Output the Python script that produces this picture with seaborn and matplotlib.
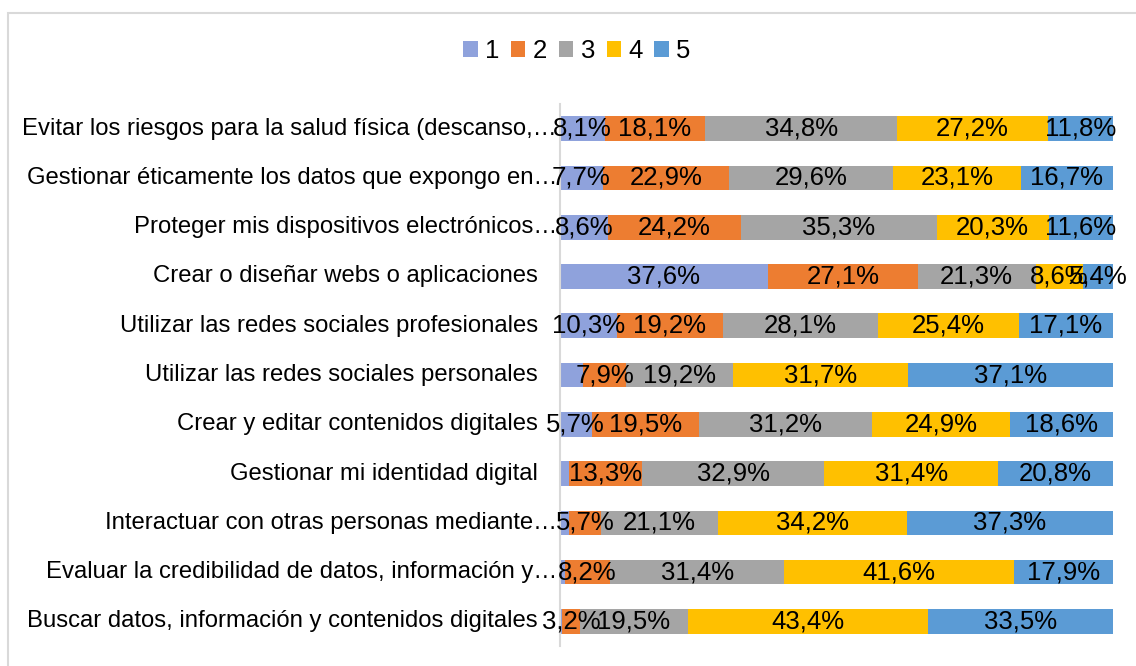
import numpy as np
import pandas as pd
import matplotlib
matplotlib.use("Agg")
import matplotlib.pyplot as plt
from matplotlib.patches import Rectangle, Patch
import matplotlib.transforms as mtransforms
import seaborn as sns

categories = [
    "Evitar los riesgos para la salud física (descanso,…",
    "Gestionar éticamente los datos que expongo en…",
    "Proteger mis dispositivos electrónicos…",
    "Crear o diseñar webs o aplicaciones",
    "Utilizar las redes sociales profesionales",
    "Utilizar las redes sociales personales",
    "Crear y editar contenidos digitales",
    "Gestionar mi identidad digital",
    "Interactuar con otras personas mediante…",
    "Evaluar la credibilidad de datos, información y…",
    "Buscar datos, información y contenidos digitales",
]
series_names = ["1", "2", "3", "4", "5"]
s1 = [8.1, 7.7, 8.6, 37.6, 10.3, 4.1, 5.7, 1.6, 1.7, 0.9, 0.4]
s2 = [18.1, 22.9, 24.2, 27.1, 19.2, 7.9, 19.5, 13.3, 5.7, 8.2, 3.2]
s3 = [34.8, 29.6, 35.3, 21.3, 28.1, 19.2, 31.2, 32.9, 21.1, 31.4, 19.5]
s4 = [27.2, 23.1, 20.3, 8.6, 25.4, 31.7, 24.9, 31.4, 34.2, 41.6, 43.4]
s5 = [11.8, 16.7, 11.6, 5.4, 17.1, 37.1, 18.6, 20.8, 37.3, 17.9, 33.5]
# series-1 labels not shown in the original chart
s1_label_hidden = [False, False, False, False, False, True, False, True, True, True, True]

colors = ["#8FA2DC", "#ED7D31", "#A5A5A5", "#FFC000", "#5B9BD5"]

W, H = 1136, 666
fig = plt.figure(figsize=(W / 100, H / 100), dpi=100)
plt.rcParams["font.family"] = ["Liberation Sans", "DejaVu Sans"]

ax = fig.add_axes([560 / W, 20 / H, 553 / W, 542 / H])

vals = np.array([s1, s2, s3, s4, s5], dtype=float)
totals = vals.sum(axis=0)
norm = vals / totals * 100
cum = np.cumsum(norm, axis=0)

df = pd.DataFrame({"cat": categories})
for i in range(5):
    df[f"c{i}"] = cum[i]

# draw cumulative bars from the longest down so each segment shows
for i in range(4, -1, -1):
    sns.barplot(data=df, x=f"c{i}", y="cat", order=categories, color=colors[i],
                width=0.5, linewidth=0, saturation=1, ax=ax, orient="h")

# data labels
for i in range(5):
    for j in range(len(categories)):
        if i == 0 and s1_label_hidden[j]:
            continue
        start = cum[i - 1][j] if i > 0 else 0
        center = (start + cum[i][j]) / 2
        txt = f"{vals[i][j]:.1f}%".replace(".", ",")
        ax.text(center, j, txt, ha="center", va="center", fontsize=18.5, color="#000000")

ax.set_xlim(0, 100)
ax.set_ylim(len(categories) - 0.5, -0.5)
ax.set_xlabel("")
ax.set_ylabel("")
ax.set_xticks([])
ax.set_yticks(range(len(categories)))
ax.set_yticklabels([])
ax.tick_params(left=False, bottom=False)
for s in ["top", "right", "bottom"]:
    ax.spines[s].set_visible(False)
ax.spines["left"].set_color("#D9D9D9")
ax.spines["left"].set_linewidth(1.5)

# category labels (truncated ones extend slightly further right)
for j, c in enumerate(categories):
    off = -3 if c.endswith("…") else -22
    tr = mtransforms.offset_copy(ax.get_yaxis_transform(), fig=fig, x=off, y=0, units="dots")
    ax.text(0, j, c, transform=tr, ha="right", va="center", fontsize=17.2, color="#000000")

handles = [Patch(facecolor=colors[i], edgecolor="none", label=series_names[i]) for i in range(5)]
fig.legend(handles=handles, loc="center", bbox_to_anchor=(577 / W, 1 - 51 / H), ncol=5,
           frameon=False, fontsize=18.5, handlelength=0.55, handleheight=0.55,
           handletextpad=0.3, columnspacing=0.45)

fig.patches.append(Rectangle((8 / W, -0.1), 1.2, 1.1 - 13 / H, transform=fig.transFigure,
                             fill=False, edgecolor="#D9D9D9", linewidth=1.5))

fig.savefig("out.png", dpi=100, facecolor="white")
